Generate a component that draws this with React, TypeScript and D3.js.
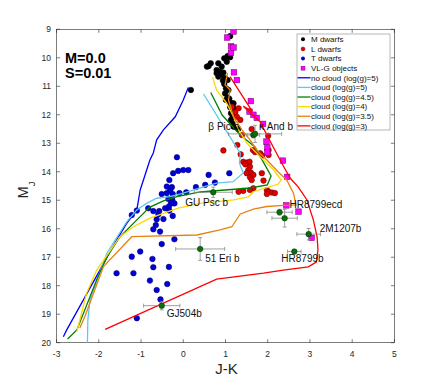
import React from 'react';
import * as d3 from 'd3';

type P = [number, number];

const xTicks = [-3, -2, -1, 0, 1, 2, 3, 4, 5];
const yTicks = [9, 10, 11, 12, 13, 14, 15, 16, 17, 18, 19, 20];

const mDwarfs: P[] = [
  [1.11, 9.24], [1.05, 9.94], [1.11, 9.98], [0.97, 10.02], [1.03, 10.14], [0.65, 10.19], [0.6, 10.29],
  [0.56, 10.31], [0.83, 10.19], [0.91, 10.31], [0.79, 10.43], [0.87, 10.49], [0.95, 10.52], [0.79, 10.54],
  [0.83, 10.66], [0.91, 10.6], [0.99, 10.72], [0.94, 10.8], [1.05, 10.78], [0.97, 10.92], [1.01, 11.07],
  [1.07, 11.13], [0.99, 11.25], [1.05, 11.39], [1.09, 11.44], [1.01, 11.48], [1.08, 11.54], [1.13, 11.58],
  [1.19, 11.6], [1.15, 11.69], [1.11, 11.74], [1.19, 11.77], [1.13, 11.95], [1.17, 12.07], [1.13, 12.18],
  [1.17, 12.3], [1.19, 12.42], [1.3, 12.5], [0.18, 11.13],
];

const lDwarfs: P[] = [
  [1.15, 11.72], [1.31, 11.77], [1.23, 11.91], [1.27, 12.07], [1.35, 12.18], [1.39, 12.71], [1.62, 12.5],
  [2.01, 12.74], [1.28, 13.06], [0.95, 13.25], [1.65, 13.24], [1.7, 13.31], [1.82, 13.35], [1.87, 13.43],
  [2.02, 13.24], [2.02, 13.41], [1.36, 13.39], [1.42, 13.65], [1.5, 13.68], [1.57, 13.65], [1.47, 13.74],
  [1.58, 13.82], [1.54, 13.94], [1.6, 14.03], [1.5, 14.05], [1.66, 14.11], [1.58, 14.19], [1.62, 14.29],
  [1.86, 14.05], [1.9, 14.31], [1.66, 14.58], [1.58, 14.64], [1.42, 14.67], [1.31, 14.7], [1.98, 14.64],
  [2.02, 14.7], [1.98, 14.78], [2.1, 14.73], [2.17, 14.75],
];

const tDwarfs: P[] = [
  [-0.15, 13.49], [-0.12, 13.97], [0.0, 13.94], [0.12, 13.94], [-0.24, 14.05], [-0.33, 14.29], [-0.39, 14.52],
  [-0.27, 14.54], [-0.51, 14.78], [-0.31, 14.66], [-0.39, 14.75], [-0.25, 14.78], [-0.09, 14.75], [0.07, 14.72],
  [0.3, 14.54], [0.52, 14.46], [0.6, 14.11], [0.75, 14.38], [1.09, 14.05], [-0.35, 14.96], [-0.26, 14.99],
  [-0.21, 15.11], [-0.29, 15.11], [-0.83, 15.28], [-0.71, 15.38], [-0.57, 15.38], [-0.43, 15.28], [-0.34, 15.22],
  [-0.33, 15.36], [-0.59, 15.49], [-1.22, 15.52], [-1.1, 15.36], [-0.25, 15.55], [-0.63, 15.67], [-0.47, 15.66],
  [-0.65, 15.87], [-0.71, 16.02], [-0.55, 16.1], [-0.51, 16.54], [-0.21, 16.37], [-1.22, 16.98], [-1.02, 16.8],
  [-0.73, 17.06], [-0.71, 17.35], [-0.34, 17.34], [-1.58, 17.56], [-1.18, 17.56], [-0.79, 17.82], [-0.38, 17.94],
  [-0.63, 18.15], [-0.54, 18.48], [-1.1, 19.14],
];

const vlgObjects: P[] = [
  [1.19, 9.08], [1.04, 9.29], [1.13, 9.6], [1.19, 9.64], [1.13, 9.83], [1.2, 10.51], [1.27, 10.78],
  [1.6, 11.52], [1.57, 11.89], [1.66, 12.0], [1.74, 12.11], [1.89, 12.32], [1.97, 12.94], [1.99, 13.15],
  [1.99, 13.32], [2.36, 13.61], [2.46, 14.18], [2.44, 15.18], [2.73, 15.4], [3.04, 16.32],
];

const noCloud5: P[] = [
  [0.12, 11.04], [0.0, 11.48], [-0.19, 12.07], [-0.47, 12.53], [-0.63, 12.88], [-0.71, 13.34], [-0.79, 13.59],
  [-1.02, 14.64], [-1.1, 15.34], [-1.34, 15.81], [-1.58, 16.4], [-2.76, 19.55], [-2.84, 19.79],
];
const cloud5: P[] = [
  [0.48, 11.27], [1.15, 12.88], [1.35, 13.35], [1.33, 13.7], [1.42, 14.04], [1.18, 14.35], [0.79, 14.4],
  [0.4, 14.57], [0.0, 14.75], [-0.31, 14.87], [-0.63, 14.93], [-0.87, 15.11], [-1.1, 15.34], [-1.34, 15.76],
  [-1.81, 16.86], [-1.93, 17.34], [-2.21, 18.5], [-2.26, 19.2], [-2.27, 20.0],
];
const cloud45: P[] = [
  [0.65, 11.22], [0.92, 12.01], [1.35, 12.71], [1.7, 13.13], [1.87, 13.59], [2.08, 14.15], [1.99, 14.46],
  [1.58, 14.57], [0.4, 14.71], [-0.15, 14.87], [-0.47, 15.02], [-0.79, 15.24], [-1.1, 15.69], [-1.5, 16.29],
  [-1.81, 16.99], [-2.05, 17.79], [-2.52, 19.55], [-2.74, 19.87],
];
const cloud4: P[] = [
  [0.69, 10.68], [0.79, 11.13], [1.03, 11.6], [1.19, 12.07], [1.31, 12.53], [1.51, 13.0], [1.82, 13.47],
  [2.14, 13.94], [2.32, 14.29], [2.25, 14.43], [1.66, 14.7], [1.54, 14.88], [1.19, 14.99], [0.4, 15.11],
  [-0.12, 15.28], [-0.79, 15.63], [-1.18, 15.93], [-1.5, 16.28], [-2.05, 17.45], [-2.29, 18.26], [-2.52, 19.61],
];
const cloud35: P[] = [
  [1.05, 10.54], [0.99, 10.95], [1.11, 11.13], [1.07, 11.48], [1.19, 12.07], [1.39, 12.53], [1.58, 12.88],
  [1.74, 13.24], [1.98, 13.59], [2.25, 14.01], [2.45, 14.29], [2.61, 14.75], [2.67, 15.16], [2.37, 15.18],
  [1.98, 15.22], [1.66, 15.31], [1.35, 15.48], [1.15, 15.93], [0.87, 16.04], [0.32, 16.22], [-1.22, 16.28],
  [-1.89, 17.33], [-2.33, 19.08], [-2.45, 19.48],
];
const cloud3: P[] = [
  [1.11, 10.67], [1.63, 11.87], [1.42, 11.7], [1.82, 12.25], [2.13, 13.13], [2.37, 13.8], [2.53, 14.22],
  [2.72, 14.53], [2.93, 14.99], [3.08, 15.69], [3.17, 16.29], [3.19, 16.74], [3.15, 17.17], [2.96, 17.34],
  [2.37, 17.45], [1.9, 17.56], [0.79, 17.77], [-1.85, 19.53],
];

const companionNames = ['β Pic b', 'κ And b', 'GU Psc b', '51 Eri b', 'GJ504b', 'HR8799ecd', 'HR8799ecd_2', '2M1207b', 'HR8799b'];
const companionJK = [1.66, 1.7, 0.71, 0.4, -0.51, 2.28, 2.4, 2.97, 2.63];
const companionMJ = [12.71, 12.67, 14.72, 16.71, 18.7, 15.42, 15.63, 16.19, 16.8];
const companionJKErr = [0.15, 0.63, 0.45, 0.58, 0.43, 0.3, 0.3, 0.28, 0.16];
const companionMJErr = [0.1, 0.3, 0.18, 0.4, 0.15, 0.1, 0.31, 0.2, 0.05];

const legendLabels = ['M dwarfs', 'L dwarfs', 'T dwarfs', 'VL-G objects', 'no cloud (log(g)=5)', 'cloud (log(g)=5)',
  'cloud (log(g)=4.5)', 'cloud (log(g)=4)', 'cloud (log(g)=3.5)', 'cloud (log(g)=3)'];

const W = 436, H = 386;
const L = 56.6, R = 394.4, T = 29.3, B = 342.7;
const FONT = '"Liberation Sans", Arial, Helvetica, sans-serif';
const AX = '#262626';

const labelOffsets: Record<string, [number, number]> = {
  'β Pic b': [-45, -5],
  'κ And b': [4, -4],
  'GU Psc b': [-28, 14],
  '51 Eri b': [5, 13],
  'GJ504b': [5, 11],
  'HR8799ecd': [10, -4],
  '2M1207b': [11, -2],
  'HR8799b': [-13, 10],
};

export default function App() {
  const x = d3.scaleLinear().domain([-3, 5]).range([L, R]);
  const y = d3.scaleLinear().domain([9, 20]).range([T, B]);
  const line = d3.line<P>().x(d => x(d[0])).y(d => y(d[1]));

  const models: { data: P[]; color: string }[] = [
    { data: noCloud5, color: '#0000ff' },
    { data: cloud5, color: '#5ec8f0' },
    { data: cloud45, color: '#008000' },
    { data: cloud4, color: '#ffd700' },
    { data: cloud35, color: '#e8830f' },
    { data: cloud3, color: '#ff0000' },
  ];

  const tl = 3.5;
  const legendY0 = 39.3, legendDy = 9.62;

  return (
    <svg width={W} height={H} style={{ position: 'absolute', left: 0, top: 0, background: '#fff' }} fontFamily={FONT}>
      <rect x={0} y={0} width={W} height={H} fill="#fff" />
      <defs>
        <clipPath id="plotclip">
          <rect x={L} y={T} width={R - L} height={B - T} />
        </clipPath>
      </defs>
      <rect x={L} y={T} width={R - L} height={B - T} fill="none" stroke={AX} strokeWidth={0.6} />
      {xTicks.map(t => (
        <g key={'xt' + t}>
          <line x1={x(t)} x2={x(t)} y1={B} y2={B - tl} stroke={AX} strokeWidth={0.6} />
          <line x1={x(t)} x2={x(t)} y1={T} y2={T + tl} stroke={AX} strokeWidth={0.6} />
          <text x={x(t)} y={357} fontSize={8.5} textAnchor="middle" fill={AX}>{t}</text>
        </g>
      ))}
      {yTicks.map(t => (
        <g key={'yt' + t}>
          <line x1={L} x2={L + tl} y1={y(t)} y2={y(t)} stroke={AX} strokeWidth={0.6} />
          <line x1={R} x2={R - tl} y1={y(t)} y2={y(t)} stroke={AX} strokeWidth={0.6} />
          <text x={51} y={y(t) + 3} fontSize={8.5} textAnchor="end" fill={AX}>{t}</text>
        </g>
      ))}
      <text x={226.5} y={374} fontSize={15} textAnchor="middle" fill={AX}>J-K</text>
      <text transform={`translate(28,${(T + B) / 2 + 4}) rotate(-90)`} fontSize={14.5} textAnchor="middle" fill={AX}>
        M<tspan fontSize={9.5} dy={7}>J</tspan>
      </text>
      <text x={65} y={63.3} fontSize={14.5} fontWeight="bold" fill="#000">M=0.0</text>
      <text x={65} y={78.3} fontSize={14.5} fontWeight="bold" fill="#000">S=0.01</text>

      <g clipPath="url(#plotclip)">
        {mDwarfs.map((d, i) => (
          <circle key={'m' + i} cx={x(d[0])} cy={y(d[1])} r={2.8} fill="#000" stroke="#000" strokeWidth={0.5} />
        ))}
        {lDwarfs.map((d, i) => (
          <circle key={'l' + i} cx={x(d[0])} cy={y(d[1])} r={2.8} fill="#e00000" stroke="#600" strokeWidth={0.5} />
        ))}
        {tDwarfs.map((d, i) => (
          <circle key={'t' + i} cx={x(d[0])} cy={y(d[1])} r={2.8} fill="#0000dd" stroke="#000060" strokeWidth={0.5} />
        ))}
        {vlgObjects.map((d, i) => (
          <rect key={'v' + i} x={x(d[0]) - 2.8} y={y(d[1]) - 2.8} width={5.6} height={5.6} fill="#ff00ff" stroke="#700070" strokeWidth={0.5} />
        ))}
        {models.map((m, i) => (
          <path key={'ln' + i} d={line(m.data) || ''} fill="none" stroke={m.color} strokeWidth={1.3} />
        ))}
        {companionNames.map((n, i) => {
          const cx = x(companionJK[i]), cy = y(companionMJ[i]);
          const x0 = x(companionJK[i] - companionJKErr[i]), x1 = x(companionJK[i] + companionJKErr[i]);
          const y0 = y(companionMJ[i] - companionMJErr[i]), y1 = y(companionMJ[i] + companionMJErr[i]);
          return (
            <g key={'c' + i} stroke="#888" strokeWidth={0.8}>
              <line x1={x0} x2={x1} y1={cy} y2={cy} />
              <line x1={x0} x2={x0} y1={cy - 2} y2={cy + 2} />
              <line x1={x1} x2={x1} y1={cy - 2} y2={cy + 2} />
              <line x1={cx} x2={cx} y1={y0} y2={y1} />
              <line x1={cx - 2} x2={cx + 2} y1={y0} y2={y0} />
              <line x1={cx - 2} x2={cx + 2} y1={y1} y2={y1} />
            </g>
          );
        })}
        {companionNames.map((n, i) => (
          <circle key={'cd' + i} cx={x(companionJK[i])} cy={y(companionMJ[i])} r={2.8} fill="#0a6e0a" stroke="#003000" strokeWidth={0.5} />
        ))}
        {companionNames.map((n, i) => {
          const off = labelOffsets[n];
          if (!off) return null;
          return (
            <text key={'cl' + i} x={x(companionJK[i]) + off[0]} y={y(companionMJ[i]) + off[1]} fontSize={10} fill="#111">{n}</text>
          );
        })}
      </g>

      <rect x={297} y={34} width={93} height={96} fill="#fff" stroke="#888" strokeWidth={0.6} />
      {legendLabels.map((lab, i) => {
        const ly = legendY0 + i * legendDy;
        let sym: React.ReactNode = null;
        if (i === 0) sym = <circle cx={303} cy={ly} r={2} fill="#000" />;
        else if (i === 1) sym = <circle cx={303} cy={ly} r={2} fill="#e00000" stroke="#600" strokeWidth={0.4} />;
        else if (i === 2) sym = <circle cx={303} cy={ly} r={2} fill="#0000dd" />;
        else if (i === 3) sym = <rect x={301} y={ly - 2} width={4} height={4} fill="#ff00ff" stroke="#700070" strokeWidth={0.4} />;
        else sym = <line x1={297.5} x2={310.5} y1={ly} y2={ly} stroke={models[i - 4].color} strokeWidth={1.3} />;
        return (
          <g key={'lg' + i}>
            {sym}
            <text x={311} y={ly + 2.8} fontSize={8} fill="#111">{lab}</text>
          </g>
        );
      })}
    </svg>
  );
}
